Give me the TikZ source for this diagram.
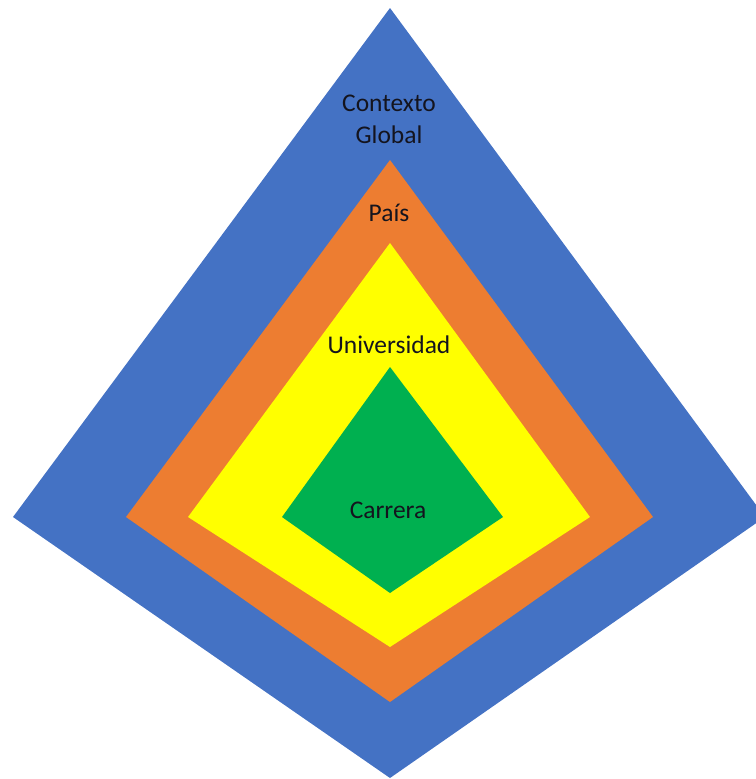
\documentclass[tikz,border=0pt]{standalone}
\usepackage{fontspec}
\setmainfont{Carlito}
\usetikzlibrary{positioning}
\definecolor{capaGlobal}{RGB}{68, 114, 196}
\definecolor{capaPais}{RGB}{237, 125, 49}
\definecolor{capaUni}{RGB}{255, 255, 0}
\definecolor{capaCarrera}{RGB}{0, 176, 80}
\definecolor{texto}{RGB}{20, 20, 30}
\begin{document}
\begin{tikzpicture}[x=0.02cm, y=-0.02cm, font=\fontsize{14.5}{18.2}\selectfont, text=texto]
        \useasboundingbox (0,0) rectangle (756,779);
        \clip (0,0) rectangle (756,779);
        \foreach \col/\t/\l/\r/\b in {
            capaGlobal/8/13/765/778,
            capaPais/160/126/653/702,
            capaUni/243/188/590/647,
            capaCarrera/367/282/503/593}
        {
            \fill[\col] (390,\t) -- (\l,517) -- (390,\b) -- (\r,517) -- cycle;
        }
        \node[align=center] (global) at (389,119) {Contexto\\Global};
        \node (pais) at (389,213) {País};
        \node (uni) at (389,345) {Universidad};
        \node (carrera) at (388,510) {Carrera};
    \end{tikzpicture}
\end{document}
